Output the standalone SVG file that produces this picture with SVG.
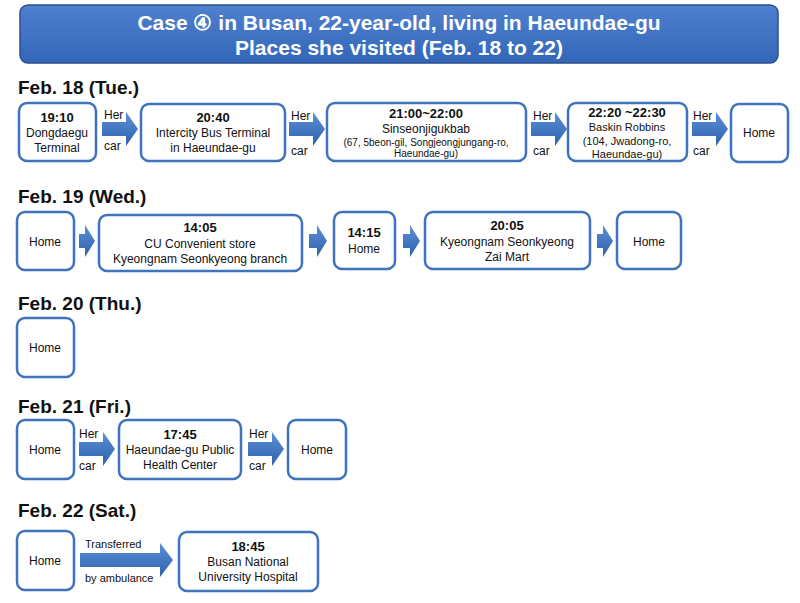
<svg xmlns="http://www.w3.org/2000/svg" width="800" height="603" viewBox="0 0 800 603">
<defs>
<linearGradient id="ag" x1="0" y1="0" x2="0" y2="1"><stop offset="0" stop-color="#5b8fd6"/><stop offset="1" stop-color="#2f62ad"/></linearGradient>
<linearGradient id="tg" x1="0" y1="0" x2="0" y2="1"><stop offset="0" stop-color="#4f80cf"/><stop offset="1" stop-color="#3466b8"/></linearGradient>
</defs>
<style>
.n{fill:#fff;stroke:#3f73bd;stroke-width:2.5}
text{font-family:"Liberation Sans",Arial,sans-serif;fill:#111;text-anchor:middle}
.t{font-size:13px;font-weight:bold}
.s{font-size:12px}
.x{font-size:10px}
.d{font-size:19px;font-weight:bold;text-anchor:start}
.l{font-size:12px;text-anchor:start}
.ar{fill:url(#ag)}
</style>
<rect x="20" y="5" width="758" height="58" rx="8" fill="url(#tg)" stroke="#2a4f8c" stroke-width="1.5"/>
<text x="399" y="30" style="font-size:21px;font-weight:bold;fill:#fff">Case ④ in Busan, 22-year-old, living in Haeundae-gu</text>
<text x="399" y="55" style="font-size:21px;font-weight:bold;fill:#fff">Places she visited (Feb. 18 to 22)</text>
<text class="d" x="18" y="94">Feb. 18 (Tue.)</text>
<text class="d" x="18" y="203">Feb. 19 (Wed.)</text>
<text class="d" x="18" y="310">Feb. 20 (Thu.)</text>
<text class="d" x="18" y="413">Feb. 21 (Fri.)</text>
<text class="d" x="18" y="517">Feb. 22 (Sat.)</text>
<g id="connectors">
<path class="ar" d="M102 122h24v-10l12 17-12 17v-10h-24z"/>
<path class="ar" d="M289 122h24v-10l12 17-12 17v-10h-24z"/>
<path class="ar" d="M531 122h24v-10l12 17-12 17v-10h-24z"/>
<path class="ar" d="M692 122h24v-10l12 17-12 17v-10h-24z"/>
<path class="ar" d="M79 234h6v-9l10 16-10 16v-9h-6z"/>
<path class="ar" d="M309 234h8v-9l10 16-10 16v-9h-8z"/>
<path class="ar" d="M403 234h7v-9l10 16-10 16v-9h-7z"/>
<path class="ar" d="M597 234h6v-9l10 16-10 16v-9h-6z"/>
<path class="ar" d="M79 442h24v-10l12 17-12 17v-10h-24z"/>
<path class="ar" d="M248 442h24v-10l12 17-12 17v-10h-24z"/>
<path class="ar" d="M80 553h80v-10l13 17-13 17v-10h-80z"/>
<text class="l" x="104" y="119">Her</text><text class="l" x="104" y="150">car</text>
<text class="l" x="291" y="120">Her</text><text class="l" x="291" y="155">car</text>
<text class="l" x="533" y="120">Her</text><text class="l" x="533" y="155">car</text>
<text class="l" x="693" y="120">Her</text><text class="l" x="693" y="155">car</text>
<text class="l" x="79" y="438">Her</text><text class="l" x="79" y="470">car</text>
<text class="l" x="249" y="438">Her</text><text class="l" x="249" y="470">car</text>
<text class="l" x="85" y="548" style="font-size:11px">Transferred</text>
<text class="l" x="85" y="582" style="font-size:11px">by ambulance</text>
</g>
<g id="n1"><rect class="n" x="19" y="103" width="77" height="58" rx="8"/><text class="t" x="57" y="122">19:10</text><text class="s" x="57" y="137">Dongdaegu</text><text class="s" x="57" y="152">Terminal</text></g>
<g id="n2"><rect class="n" x="141" y="104" width="144" height="57" rx="8"/><text class="t" x="213" y="122">20:40</text><text class="s" x="213" y="137">Intercity Bus Terminal</text><text class="s" x="213" y="152">in Haeundae-gu</text></g>
<g id="n3"><rect class="n" x="327" y="103" width="199" height="58" rx="8"/><text class="t" x="426" y="118">21:00~22:00</text><text class="s" x="426" y="133">Sinseonjigukbab</text><text class="x" x="426" y="146">(67, 5beon-gil, Songjeongjungang-ro,</text><text class="x" x="426" y="157">Haeundae-gu)</text></g>
<g id="n4"><rect class="n" x="568" y="103" width="119" height="58" rx="8"/><text class="t" x="627" y="117">22:20 ~22:30</text><text class="s" x="627" y="131" style="font-size:11px">Baskin Robbins</text><text class="s" x="627" y="145" style="font-size:11px">(104, Jwadong-ro,</text><text class="s" x="627" y="158" style="font-size:11px">Haeundae-gu)</text></g>
<g id="n5"><rect class="n" x="731" y="104" width="57" height="58" rx="8"/><text class="s" x="759" y="137">Home</text></g>
<g id="n6"><rect class="n" x="17" y="212" width="57" height="58" rx="8"/><text class="s" x="45" y="246">Home</text></g>
<g id="n7"><rect class="n" x="99" y="215" width="203" height="56" rx="8"/><text class="t" x="200" y="232">14:05</text><text class="s" x="200" y="248">CU Convenient store</text><text class="s" x="200" y="263">Kyeongnam Seonkyeong branch</text></g>
<g id="n8"><rect class="n" x="334" y="212" width="61" height="57" rx="8"/><text class="t" x="364" y="237">14:15</text><text class="s" x="364" y="253">Home</text></g>
<g id="n9"><rect class="n" x="425" y="212" width="165" height="57" rx="8"/><text class="t" x="507" y="230">20:05</text><text class="s" x="507" y="246">Kyeongnam Seonkyeong</text><text class="s" x="507" y="261">Zai Mart</text></g>
<g id="n10"><rect class="n" x="617" y="212" width="64" height="57" rx="8"/><text class="s" x="649" y="246">Home</text></g>
<g id="n11"><rect class="n" x="17" y="318" width="57" height="59" rx="8"/><text class="s" x="45" y="352">Home</text></g>
<g id="n12"><rect class="n" x="17" y="420" width="57" height="59" rx="8"/><text class="s" x="45" y="454">Home</text></g>
<g id="n13"><rect class="n" x="119" y="420" width="122" height="59" rx="8"/><text class="t" x="180" y="439">17:45</text><text class="s" x="180" y="454">Haeundae-gu Public</text><text class="s" x="180" y="469">Health Center</text></g>
<g id="n14"><rect class="n" x="288" y="420" width="58" height="59" rx="8"/><text class="s" x="317" y="454">Home</text></g>
<g id="n15"><rect class="n" x="17" y="531" width="57" height="59" rx="8"/><text class="s" x="45" y="565">Home</text></g>
<g id="n16"><rect class="n" x="179" y="532" width="139" height="59" rx="8"/><text class="t" x="248" y="551">18:45</text><text class="s" x="248" y="566">Busan National</text><text class="s" x="248" y="581">University Hospital</text></g>
</svg>
